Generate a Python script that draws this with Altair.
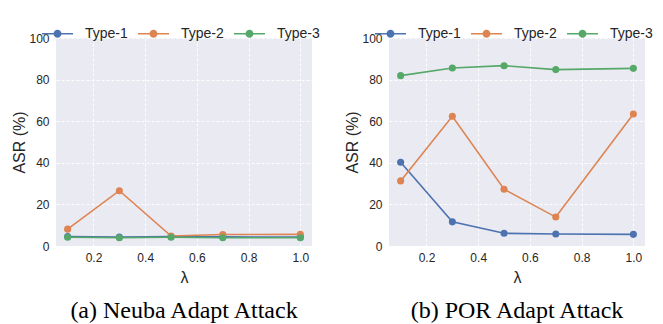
import altair as alt
import pandas as pd

lam = [0.1, 0.3, 0.5, 0.7, 1.0]
series = ["Type-1", "Type-2", "Type-3"]
colors = ["#4C72B0", "#DD8452", "#55A868"]

neuba_t1 = [4.6, 4.3, 4.6, 4.4, 4.3]
neuba_t2 = [8.1, 26.6, 4.8, 5.5, 5.6]
neuba_t3 = [4.2, 4.0, 4.2, 4.0, 4.0]

por_t1 = [40.3, 11.6, 6.1, 5.8, 5.6]
por_t2 = [31.3, 62.4, 27.3, 13.9, 63.5]
por_t3 = [81.9, 85.6, 86.7, 84.8, 85.4]

x_ticks = [0.2, 0.4, 0.6, 0.8, 1.0]
y_ticks = [0, 20, 40, 60, 80, 100]
captions = ["(a) Neuba Adapt Attack", "(b) POR Adapt Attack"]


def make_df(vals):
    rows = []
    for name, v in zip(series, vals):
        for x, y in zip(lam, v):
            rows.append({"lam": x, "asr": y, "type": name, "line_type": name})
    return pd.DataFrame(rows)


# legend glyph (unit = 15.5px, symbol 31px wide): thin bar for the line plus a dot, all filled
sym_path = ("M-1,-0.048H1V0.048H-1Z"
            "M0.258,0A0.258,0.258,0,1,1,-0.258,0A0.258,0.258,0,1,1,0.258,0Z")


def panel(vals, caption):
    df = make_df(vals)
    x = alt.X("lam:Q", title="λ", scale=alt.Scale(domain=[0.055, 1.045], nice=False, zero=False),
              axis=alt.Axis(values=x_ticks, format=".1f"))
    y = alt.Y("asr:Q", title="ASR (%)", scale=alt.Scale(domain=[0, 100], nice=False),
              axis=alt.Axis(values=y_ticks))
    # line colours: same mapping, listed in reverse so this legend-less scale
    # is not merged with the point legend
    lines = alt.Chart(df).mark_line(strokeWidth=1.6).encode(
        x=x, y=y,
        stroke=alt.Stroke("line_type:N",
                          scale=alt.Scale(domain=series[::-1], range=colors[::-1]),
                          legend=None))
    pts = alt.Chart(df).mark_point(filled=True, size=50, opacity=1).encode(
        x=x, y=y,
        color=alt.Color(
            "type:N", scale=alt.Scale(domain=series, range=colors),
            legend=alt.Legend(
                title=None, orient="none", legendX=-14, legendY=-20, direction="horizontal",
                symbolType=sym_path, symbolSize=961, symbolStrokeWidth=0, symbolOpacity=1,
                labelFontSize=14, labelFont="Liberation Sans", labelColor="#262626",
                labelOffset=12, columnPadding=10,
            ),
        ),
    )
    return alt.layer(lines, pts).properties(
        width=256, height=208,
        title=alt.TitleParams(text=caption, orient="bottom", font="Liberation Serif", fontSize=24,
                              fontWeight="normal", color="black", offset=14, anchor="middle"),
    )


chart = alt.hconcat(panel([neuba_t1, neuba_t2, neuba_t3], captions[0]),
                    panel([por_t1, por_t2, por_t3], captions[1]),
                    spacing=24).resolve_scale(color="independent", stroke="independent").resolve_legend(
    color="independent").properties(
    padding={"left": 3, "top": 10, "right": 0, "bottom": 0}
).configure_view(fill="#EAEAF2", stroke=None).configure_axis(
    domain=False, ticks=False, grid=True, gridColor="white", gridDash=[3, 2], gridWidth=0.9,
    labelFont="Liberation Sans", labelFontSize=12, labelColor="#262626",
    titleFont="Liberation Sans", titleFontSize=16, titleFontWeight="normal", titleColor="#262626",
).configure_axisX(titlePadding=6, labelPadding=6).configure_axisY(titlePadding=1, labelPadding=7)

chart.save("out.html", embed_options={"renderer": "svg", "actions": False})
